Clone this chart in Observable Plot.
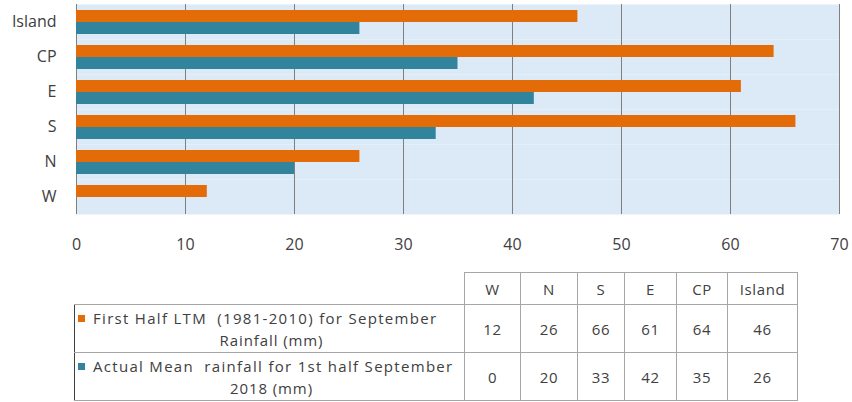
<!DOCTYPE html>
<html>
<head>
<meta charset="utf-8">
<script src="https://cdn.jsdelivr.net/npm/d3@7"></script>
<script src="https://cdn.jsdelivr.net/npm/@observablehq/plot@0.6"></script>
<style>
  html, body { margin: 0; padding: 0; background: #ffffff; }
  #wrap { position: relative; width: 852px; height: 402px; overflow: hidden; font-family: "Open Sans", sans-serif; color: #404040; }
  #chart { position: absolute; left: 0; top: 0; }
  #tbl { position: absolute; left: 74px; top: 272px; border-collapse: collapse; table-layout: fixed; font-family: "Open Sans", sans-serif; font-size: 15px; letter-spacing: 0.6px; color: #404040; }
  #tbl td { border: 1px solid #a6a6a6; text-align: center; padding: 0; box-sizing: border-box; }
  #tbl tr.head td { height: 32px; }
  #tbl tr.row td { height: 48px; }
  #tbl td.blank { border: none; }
  #tbl td.lab { text-align: center; border-left: 1px solid #404040; line-height: 22px; }
  .l1 { white-space: pre; text-align: left; padding-left: 3px; letter-spacing: 1.3px; }
  .l2 { white-space: pre; text-align: center; padding-left: 4px; letter-spacing: 0.9px; }
  .mk { display: inline-block; width: 7px; height: 7px; margin-right: 8px; vertical-align: 2px; }
</style>
</head>
<body>
<div id="wrap">
  <div id="chart"></div>
  <table id="tbl"></table>
</div>
<script>
// ---- data ----
const regions = ["W", "N", "S", "E", "CP", "Island"];
const seriesNames = [
  "First Half LTM (1981-2010) for September Rainfall (mm)",
  "Actual Mean rainfall for 1st half September 2018 (mm)"
];
const seriesLine1 = ["First Half LTM  (1981-2010) for September", "Actual Mean  rainfall for 1st half September"];
const seriesLine2 = ["Rainfall (mm)", "2018 (mm)"];
const ltmValues = [12, 26, 66, 61, 64, 46];
const actualValues = [0, 20, 33, 42, 35, 26];
const xTicks = [0, 10, 20, 30, 40, 50, 60, 70];
const colors = ["#e36c09", "#31849b"];

// ---- build table for Plot ----
const data = [];
regions.forEach((r, i) => {
  data.push({region: r, series: seriesNames[0], value: ltmValues[i]});
  data.push({region: r, series: seriesNames[1], value: actualValues[i]});
});

const chart = Plot.plot({
  width: 852,
  height: 262,
  marginLeft: 76,
  marginRight: 13,
  marginTop: 3,
  marginBottom: 47,
  style: {fontFamily: "Open Sans, sans-serif", fontSize: "16px", color: "#404040", background: "transparent"},
  x: {domain: [0, 70], label: null},
  y: {domain: seriesNames, axis: null, paddingInner: 0, paddingOuter: 0.39},
  fy: {domain: regions.slice().reverse(), padding: 0, label: null},
  color: {domain: seriesNames, range: colors},
  marks: [
    Plot.frame({fill: "#dce9f7", stroke: null}),
    Plot.gridX(xTicks, {stroke: "#7f7f7f", strokeOpacity: 1, strokeWidth: 1}),
    Plot.barX(data, {x: "value", y: "series", fy: "region", fill: "series", inset: 0}),
    Plot.axisFy({anchor: "left", tickSize: 0, tickPadding: 20, label: null, fontSize: 16, fill: "#404040"}),
    Plot.axisX(xTicks, {tickSize: 0, tickPadding: 24, label: null, fontSize: 16, fill: "#404040"})
  ]
});
document.getElementById("chart").appendChild(chart);

// ---- data table below the chart ----
const colWidths = [390, 56, 57, 47, 52, 51, 70];
const tbl = document.getElementById("tbl");
const cg = document.createElement("colgroup");
colWidths.forEach(w => { const c = document.createElement("col"); c.style.width = w + "px"; cg.appendChild(c); });
tbl.appendChild(cg);
const head = document.createElement("tr");
head.className = "head";
const blank = document.createElement("td"); blank.className = "blank"; head.appendChild(blank);
regions.forEach(r => { const td = document.createElement("td"); td.textContent = r; head.appendChild(td); });
tbl.appendChild(head);
[ltmValues, actualValues].forEach((vals, s) => {
  const tr = document.createElement("tr");
  tr.className = "row";
  const lab = document.createElement("td");
  lab.className = "lab";
  const d1 = document.createElement("div"); d1.className = "l1";
  const mk = document.createElement("span"); mk.className = "mk"; mk.style.background = colors[s];
  d1.appendChild(mk);
  d1.appendChild(document.createTextNode(seriesLine1[s]));
  const d2 = document.createElement("div"); d2.className = "l2"; d2.textContent = seriesLine2[s];
  lab.appendChild(d1); lab.appendChild(d2);
  tr.appendChild(lab);
  vals.forEach(v => { const td = document.createElement("td"); td.textContent = v; tr.appendChild(td); });
  tbl.appendChild(tr);
});
</script>
</body>
</html>
